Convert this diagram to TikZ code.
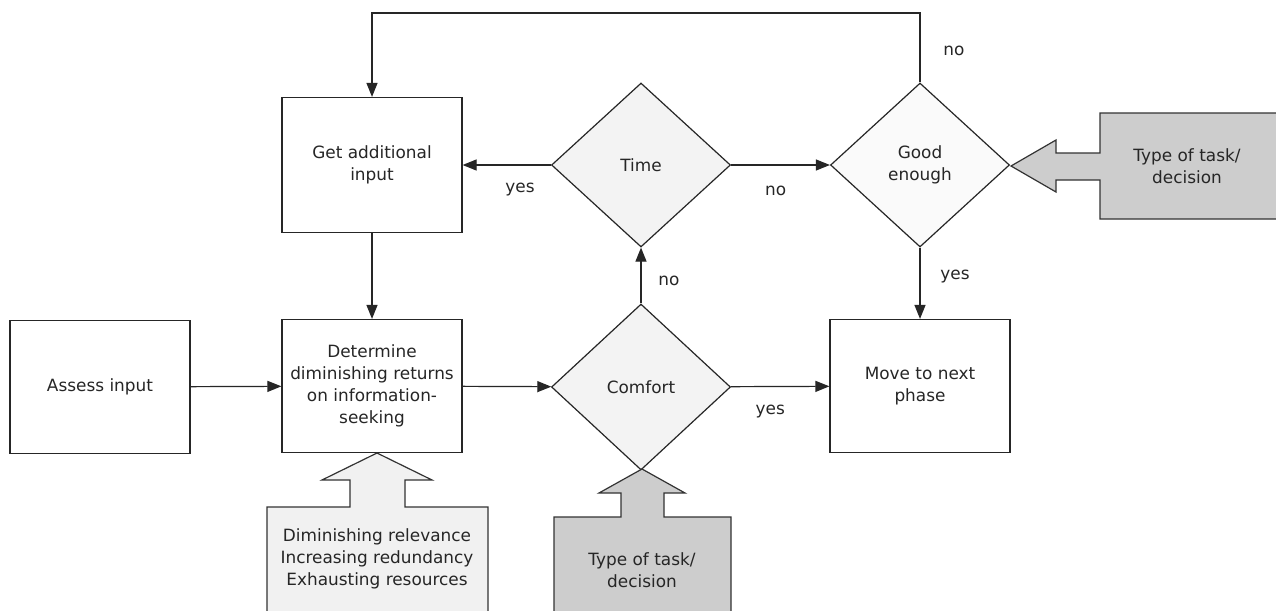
\documentclass[tikz,border=0pt]{standalone}
\usepackage{fontspec}
\setmainfont{DejaVu Sans}
\usetikzlibrary{shapes.geometric,arrows.meta}
\definecolor{decfill}{HTML}{F3F3F3}
\definecolor{hintlight}{HTML}{F1F1F1}
\definecolor{hintdark}{HTML}{CDCDCD}
\newcommand{\flowfont}{\fontsize{16.9}{22}\selectfont}
\begin{document}
\begin{tikzpicture}[x=1pt, y=-1pt,
       box/.style={rectangle, draw=black!85, line width=1.2pt, fill=white,
      minimum width=180pt, minimum height=133pt, inner sep=1pt,
      align=center, text=black!85, font=\flowfont},
        decision/.style={diamond, draw=black!85, line width=1.2pt, fill=decfill,
      minimum width=179pt, minimum height=164pt, inner sep=0pt,
      align=center, text=black!85, font=\flowfont},
        flow/.style={line width=1.2pt, black!85, -{Triangle[length=14pt,width=11pt]}},
        lbl/.style={text=black!85, font=\flowfont},
        hint/.style={draw=black!80, line width=1.2pt},
        hinttext/.style={align=center, text=black!85, font=\flowfont}]

        \useasboundingbox[fill=white] (0,0) rectangle (1276,610);

	\node [box] (assess) at (100, 387)       {Assess input};
        \node [box] (determine) at (372, 386)   {Determine\\diminishing returns\\on information-\\seeking};
        \node [box, minimum height=135pt] (getinput) at (372, 165) {Get additional\\input};
        \node [decision] (time) at (641, 165)    {Time};
        \node [decision, minimum height=166pt] (comfort) at (641, 387) {Comfort};
        \node [decision, fill=white!60!decfill] (good) at (920, 165) {Good\\enough};
        \node [box] (move) at (920, 386)        {Move to next\\phase};
        \coordinate (top) at (640, 13);

        \path [flow] (assess) edge (determine);
        \path [flow] (getinput) edge (determine);
        \path [flow] (determine) edge (comfort);
        \draw [flow] (comfort) -- node [lbl, pos=0.41, xshift=28pt] {no} (time);
        \draw [flow] (comfort) -- node [lbl, pos=0.4, yshift=-25pt] {yes} (move);
        \draw [flow] (time) -- node [lbl, pos=0.35, yshift=-25pt] {yes} (getinput);
        \draw [flow] (time) -- node [lbl, pos=0.45, yshift=-26pt] {no} (good);
        \draw [flow] (good) -- node [lbl, pos=0.4, xshift=35pt] {yes} (move);
        \draw [flow] (good.north) |- node [lbl, pos=0.23, xshift=34pt] {no} (top)
          -| (getinput.north);

        % influences
        \filldraw [hint, fill=hintlight] (377,453) -- (432,480) -- (405,480) -- (405,507)
          -- (488,507) -- (488,620) -- (267,620) -- (267,507) -- (350,507) -- (350,480)
          -- (322,480) -- cycle;
        \filldraw [hint, fill=hintdark] (642,469) -- (685,493) -- (664,493) -- (664,517)
          -- (731,517) -- (731,620) -- (554,620) -- (554,517) -- (621,517) -- (621,493)
          -- (599,493) -- cycle;
        \filldraw [hint, fill=hintdark] (1011,166) -- (1056,140) -- (1056,153) -- (1100,153)
          -- (1100,113) -- (1290,113) -- (1290,219) -- (1100,219) -- (1100,180)
          -- (1056,180) -- (1056,192) -- cycle;

        \node [hinttext] (factors) at (377, 559) {Diminishing relevance\\Increasing redundancy\\Exhausting resources};
        \node [hinttext] (tasktype) at (642, 570) {Type of task/\\decision};
        \node [hinttext] (tasktypeb) at (1187, 166) {Type of task/\\decision};
\end{tikzpicture}
\end{document}
